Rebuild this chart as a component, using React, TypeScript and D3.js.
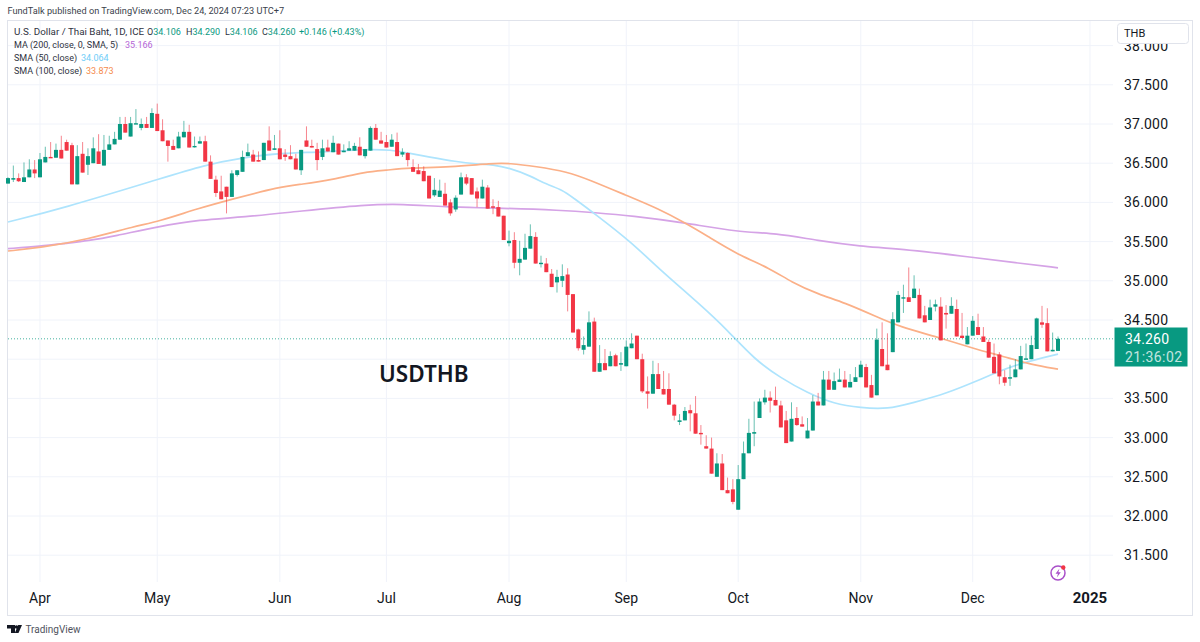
import React from "react";
import * as d3 from "d3";

const opens = [
36.24,36.29,36.31,36.26,36.32,36.42,36.32,36.51,36.58,36.57,
36.67,36.77,36.73,36.23,36.62,36.48,36.50,36.65,36.47,36.67,
36.74,36.80,37.00,36.84,37.00,36.95,37.00,36.95,37.13,36.92,
36.79,36.72,36.69,36.83,36.90,36.71,36.75,36.78,36.52,36.29,
36.14,36.20,36.07,36.35,36.39,36.59,36.61,36.54,36.54,36.79,
36.67,36.69,36.61,36.59,36.56,36.41,36.79,36.72,36.68,36.58,
36.70,36.64,36.75,36.64,36.66,36.66,36.71,36.59,36.66,36.95,
36.79,36.77,36.71,36.77,36.61,36.63,36.45,36.41,36.40,36.34,
36.09,36.07,36.11,36.00,35.91,36.10,36.32,36.31,36.14,36.05,
36.19,35.95,35.94,35.83,35.48,35.52,35.23,35.27,35.41,35.56,
35.22,35.22,35.09,34.98,35.00,35.08,34.83,34.38,34.12,34.16,
34.48,33.84,33.95,33.91,34.05,33.93,33.91,34.14,34.30,34.00,
33.59,33.56,33.81,33.62,33.62,33.42,33.20,33.22,33.35,33.31,
33.06,32.89,32.86,32.50,32.67,32.33,32.34,32.08,32.47,32.80,
33.05,33.25,33.45,33.51,33.48,33.41,33.22,32.95,33.25,33.17,
32.99,33.09,33.46,33.41,33.74,33.61,33.71,33.74,33.64,33.71,
33.77,33.90,33.67,33.54,34.13,33.93,34.09,34.47,34.78,34.79,
34.78,34.82,34.56,34.50,34.67,34.67,34.59,34.58,34.64,34.30,
34.19,34.30,34.41,34.29,34.22,34.03,34.06,33.77,33.76,33.77,
33.87,34.00,34.00,34.13,34.47,34.46,34.10,34.106];

const highs = [
36.32,36.47,36.37,36.51,36.55,36.54,36.63,36.71,36.77,36.75,
36.85,36.80,36.76,36.73,36.77,36.69,36.83,36.87,36.86,36.85,
36.90,37.09,37.09,37.09,37.19,37.07,37.09,37.20,37.26,37.06,
36.79,36.80,36.90,37.04,36.99,36.84,36.84,36.85,36.60,36.34,
36.34,36.20,36.41,36.41,36.66,36.75,36.67,36.65,36.76,36.97,
36.86,36.92,36.68,36.73,36.62,36.67,36.97,36.80,36.76,36.80,
36.80,36.85,36.75,36.74,36.78,36.76,36.83,36.68,36.97,37.00,
36.90,36.86,36.87,36.89,36.69,36.64,36.55,36.49,36.46,36.34,
36.31,36.29,36.25,36.04,36.09,36.38,36.36,36.31,36.19,36.29,
36.22,36.04,36.02,35.83,35.64,35.62,35.51,35.60,35.72,35.62,
35.32,35.29,35.15,35.14,35.21,35.16,34.83,34.39,34.29,34.61,
34.53,34.18,34.13,34.10,34.07,34.09,34.24,34.33,34.30,34.07,
33.78,33.98,33.95,33.85,33.82,33.43,33.30,33.39,33.42,33.53,
33.16,33.03,33.00,32.80,32.79,32.49,32.47,32.65,32.95,33.24,
33.46,33.50,33.61,33.59,33.65,33.47,33.34,33.45,33.39,33.27,
33.25,33.54,33.57,33.85,33.85,33.83,33.88,33.85,33.81,33.90,
33.98,33.94,33.80,34.39,34.47,34.33,34.60,34.87,34.95,35.17,
35.07,34.90,34.68,34.76,34.76,34.79,34.69,34.79,34.76,34.59,
34.41,34.55,34.58,34.41,34.25,34.20,34.09,33.86,33.93,34.00,
34.17,34.20,34.30,34.53,34.68,34.65,34.34,34.29];

const lows = [
36.24,36.26,36.26,36.26,36.32,36.31,36.32,36.51,36.57,36.57,
36.56,36.66,36.23,36.23,36.38,36.35,36.50,36.49,36.47,36.67,
36.74,36.80,36.89,36.84,37.00,36.92,36.95,36.95,36.91,36.78,
36.52,36.67,36.69,36.83,36.70,36.70,36.75,36.52,36.30,36.07,
36.04,35.86,36.07,36.33,36.39,36.59,36.52,36.52,36.54,36.66,
36.67,36.55,36.53,36.55,36.42,36.35,36.71,36.70,36.41,36.54,
36.65,36.64,36.61,36.64,36.66,36.66,36.60,36.56,36.66,36.80,
36.75,36.70,36.71,36.59,36.58,36.46,36.39,36.36,36.27,36.05,
36.07,36.07,35.96,35.83,35.88,36.10,36.22,36.10,35.94,36.05,
35.92,35.85,35.82,35.52,35.44,35.16,35.07,35.27,35.41,35.22,
35.17,35.11,34.92,34.85,34.92,34.61,34.34,34.11,34.06,34.16,
33.84,33.84,33.86,33.91,33.91,33.85,33.91,34.14,34.00,33.57,
33.37,33.56,33.62,33.55,33.42,33.22,33.16,33.22,33.08,33.05,
32.91,32.86,32.54,32.50,32.33,32.29,32.15,32.08,32.47,32.80,
32.89,33.25,33.42,33.32,33.41,33.13,32.93,32.95,33.15,33.14,
32.99,33.09,33.41,33.41,33.61,33.61,33.71,33.64,33.64,33.71,
33.77,33.64,33.51,33.54,33.91,33.86,34.09,34.47,34.59,34.73,
34.78,34.52,34.47,34.50,34.61,34.24,34.39,34.58,34.29,34.27,
34.19,34.30,34.31,34.22,34.02,33.82,33.68,33.66,33.66,33.77,
33.87,34.00,34.00,34.13,34.40,34.10,34.10,34.106];

const closes = [
36.31,36.31,36.27,36.32,36.42,36.37,36.55,36.58,36.57,36.67,
36.56,36.66,36.23,36.59,36.38,36.59,36.69,36.49,36.67,36.74,
36.81,37.00,36.89,37.01,37.01,37.00,36.95,37.14,36.91,36.78,
36.72,36.67,36.84,36.90,36.70,36.72,36.78,36.52,36.30,36.12,
36.04,36.07,36.37,36.41,36.58,36.64,36.52,36.52,36.76,36.66,
36.69,36.55,36.58,36.55,36.42,36.67,36.71,36.70,36.54,36.69,
36.65,36.76,36.61,36.66,36.69,36.72,36.60,36.68,36.95,36.80,
36.75,36.70,36.80,36.59,36.64,36.54,36.39,36.36,36.27,36.05,
36.16,36.15,35.96,35.86,36.06,36.32,36.24,36.10,36.05,36.20,
35.92,35.94,35.82,35.52,35.51,35.23,35.28,35.42,35.57,35.22,
35.23,35.11,34.92,35.05,35.06,34.82,34.34,34.14,34.18,34.47,
33.84,33.95,33.86,34.04,33.91,33.95,34.16,34.20,34.00,33.59,
33.56,33.81,33.62,33.55,33.42,33.28,33.22,33.34,33.31,33.05,
33.05,32.86,32.54,32.67,32.33,32.29,32.18,32.47,32.80,33.06,
33.07,33.46,33.51,33.47,33.41,33.13,32.93,33.24,33.16,33.14,
33.09,33.46,33.41,33.74,33.61,33.72,33.74,33.64,33.71,33.77,
33.93,33.64,33.51,34.25,33.91,33.86,34.51,34.82,34.79,34.73,
34.90,34.52,34.47,34.66,34.70,34.24,34.57,34.68,34.29,34.27,
34.30,34.49,34.31,34.22,34.02,33.82,33.78,33.70,33.77,33.87,
34.04,34.01,34.18,34.52,34.44,34.10,34.12,34.26];

const sma50Bars = [0,10,28,37,44,51,59,67,72,75,79,84,88,91,94,98,101,104,106,110,117,122,130,135,140,145,150,155,160,165,170,175,180,185,190,197];
const sma50Vals = [35.75,35.92,36.29,36.48,36.57,36.63,36.64,36.68,36.67,36.63,36.58,36.52,36.49,36.48,36.44,36.34,36.23,36.16,36.06,35.86,35.49,35.16,34.69,34.37,34.00,33.76,33.57,33.43,33.38,33.36,33.45,33.54,33.67,33.82,33.95,34.064];
const sma100Bars = [0,6,15,24,28,36,42,51,55,61,67,71,75,83,91,94,99,105,109,116,122,127,131,137,143,147,152,157,163,167,175,181,187,192,197];
const sma100Vals = [35.38,35.42,35.53,35.70,35.75,35.93,36.04,36.20,36.23,36.29,36.39,36.41,36.44,36.45,36.50,36.50,36.46,36.39,36.29,36.09,35.92,35.74,35.58,35.33,35.16,34.98,34.83,34.72,34.54,34.42,34.27,34.14,34.03,33.93,33.873];
const ma200Bars = [0,6,11,15,20,28,36,44,55,67,74,82,91,104,110,117,127,137,144,152,160,167,181,189,197];
const ma200Vals = [35.41,35.44,35.48,35.51,35.57,35.69,35.78,35.81,35.89,35.97,35.98,35.94,35.93,35.90,35.87,35.83,35.74,35.62,35.61,35.51,35.44,35.41,35.30,35.23,35.166];

const gridTicks = [31.5,32,32.5,33,33.5,34,34.5,35,35.5,36,36.5,37,37.5,38];
const priceLabels = [31.5,32,32.5,33,33.5,34.5,35,35.5,36,36.5,37,37.5,38];
const monthLabels = ["Apr","May","Jun","Jul","Aug","Sep","Oct","Nov","Dec","2025"];
const monthBars = [6,28,51,71,94,116,137,160,181,203];

const UP = "#089981";
const DOWN = "#F23645";
const GRID = "#f0f3fa";
const BORDER = "#e0e3eb";
const TEXT = "#131722";
const FONT = "Roboto, 'Noto Sans', sans-serif";

export default function App() {
  const x = d3.scaleLinear().domain([0, 197]).range([8, 1058]);
  const y = d3.scaleLinear().domain([32, 37.5]).range([516, 84.8]);
  const lineOf = (bars: number[], vals: number[]) =>
    d3.line<number>().x((b) => x(b)).y((_, i) => y(vals[i])).curve(d3.curveBasis)(bars) as string;
  const last = closes[closes.length - 1];
  const lastY = y(last);
  const ht = { fontFamily: FONT, fontSize: 9.8, fill: "#2f3341" };
  const ln = { fontFamily: FONT, fontSize: 9, fill: "#2f3341" };

  return (
    <svg width={1200} height={642} style={{ position: "absolute", left: 0, top: 0, background: "#fff", display: "block" }}>
      <rect x={7.5} y={20.5} width={1185} height={595} fill="#fff" stroke={BORDER} />
      {gridTicks.map((p) => (
        <line key={p} x1={8} x2={1113} y1={y(p)} y2={y(p)} stroke={GRID} strokeWidth={1} />
      ))}
      {monthBars.map((b) => (
        <line key={b} x1={x(b)} x2={x(b)} y1={21} y2={582} stroke={GRID} strokeWidth={1} />
      ))}
      <path d={lineOf(ma200Bars, ma200Vals)} fill="none" stroke="#d5a3e6" strokeWidth={1.7} />
      <path d={lineOf(sma50Bars, sma50Vals)} fill="none" stroke="#aee4fd" strokeWidth={1.7} />
      <path d={lineOf(sma100Bars, sma100Vals)} fill="none" stroke="#fbb088" strokeWidth={1.7} />
      <line x1={8} x2={1114} y1={lastY} y2={lastY} stroke={UP} strokeWidth={1} strokeDasharray="1 2" opacity={0.75} />
      {opens.map((o, i) => {
        const c = closes[i];
        const col = c >= o ? UP : DOWN;
        const top = y(Math.max(o, c));
        const h = Math.max(1.4, y(Math.min(o, c)) - top);
        return (
          <g key={i}>
            <line x1={x(i)} x2={x(i)} y1={y(highs[i])} y2={y(lows[i])} stroke={col} strokeWidth={1} opacity={0.6} />
            <rect x={x(i) - 2} y={top} width={4} height={h} fill={col} />
          </g>
        );
      })}
      <text x={379} y={382} fontFamily="'Noto Sans', sans-serif" fontSize={22.5} fontWeight={600} fill="#131722">USDTHB</text>

      {priceLabels.map((p) => (
        <text key={p} x={1124} y={y(p)} dy="0.36em" fontFamily={FONT} fontSize={14} letterSpacing={0.2} fill={TEXT}>{d3.format(".3f")(p)}</text>
      ))}
      <rect x={1117.5} y={23.5} width={71} height={20} rx={3} fill="#fff" stroke={BORDER} />
      <text x={1124} y={37} fontFamily={FONT} fontSize={11} fill={TEXT}>THB</text>

      <rect x={1114.5} y={327.5} width={73} height={39} fill={UP} />
      <text x={1125} y={344} fontFamily={FONT} fontSize={14} letterSpacing={0.2} fill="#fff">{d3.format(".3f")(last)}</text>
      <text x={1125} y={362} fontFamily={FONT} fontSize={14} letterSpacing={0.45} fill="#fff" opacity={0.75}>21:36:02</text>

      {monthLabels.map((m, i) => (
        <text key={m} x={x(monthBars[i])} y={603} textAnchor="middle" fontFamily={FONT} fontSize={m === "2025" ? 15 : 14} fontWeight={m === "2025" ? 700 : 400} fill={TEXT}>{m}</text>
      ))}

      <text x={7.5} y={14} fontFamily={FONT} fontSize={9.2} fill="#3b3f4c">FundTalk published on TradingView.com, Dec 24, 2024 07:23 UTC+7</text>
      <text x={14} y={34.5} {...ht}>U.S. Dollar / Thai Baht, 1D, ICE</text>
      <text x={147} y={34.5} {...ln}>O<tspan fill={UP}>34.106</tspan></text>
      <text x={186} y={34.5} {...ln}>H<tspan fill={UP}>34.290</tspan></text>
      <text x={225} y={34.5} {...ln}>L<tspan fill={UP}>34.106</tspan></text>
      <text x={262} y={34.5} {...ln}>C<tspan fill={UP}>34.260</tspan></text>
      <text x={299} y={34.5} {...ln} fill={UP}>+0.146 (+0.43%)</text>
      <text x={14} y={47.5} {...ln}>MA (200, close, 0, SMA, 5)</text>
      <text x={125} y={47.5} {...ln} fill="#b565d6">35.166</text>
      <text x={14} y={60.5} {...ln}>SMA (50, close)</text>
      <text x={81} y={60.5} {...ln} fill="#6fcdf8">34.064</text>
      <text x={14} y={73.5} {...ln}>SMA (100, close)</text>
      <text x={86} y={73.5} {...ln} fill="#f58a4c">33.873</text>

      <circle cx={1058} cy={573} r={7} fill="none" stroke="#a94fc9" strokeWidth={1.5} />
      <path d="M1059.5 568.5 L1055.5 573.8 L1058 573.8 L1056.8 577.5 L1060.8 572.2 L1058.3 572.2 Z" fill="#a94fc9" />
      <circle cx={1063.3} cy={567.5} r={2.2} fill="#f23645" />

      <path d="M7 625 H15 V633 H11 V628.5 H7 Z M22 625 L18.5 633 H14.8 L18.2 625 Z" fill="#131722" />
      <circle cx={16.5} cy={627} r={1.8} fill="#131722" />
      <text x={25.5} y={632.5} fontFamily={FONT} fontSize={10} fill="#50535e">TradingView</text>
    </svg>
  );
}
